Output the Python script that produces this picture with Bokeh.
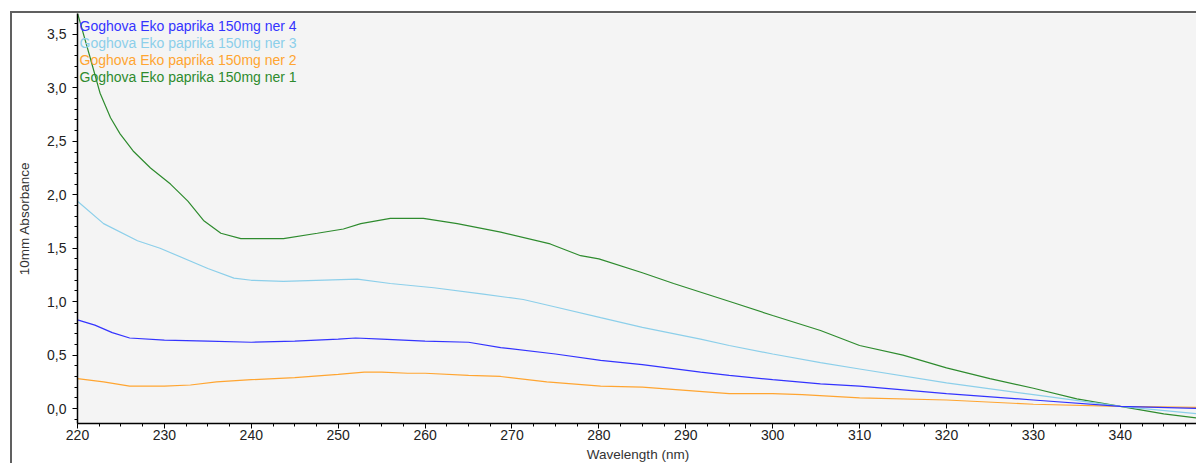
from bokeh.plotting import figure
from bokeh.models import (ColumnDataSource, Range1d, SingleIntervalTicker, Label,
                          CustomJSTickFormatter)
from bokeh.embed import file_html
from bokeh.resources import INLINE

# Wavelength sample points (nm) per series and absorbance values
wl_ner1 = [220, 221.5, 222.6, 223.8, 224.9, 226.4, 228.4, 230.7, 232.7, 234.5, 236.5, 238.8,
           242.2, 243.7, 247.6, 250.6, 252.6, 256, 259.8, 263.7, 268.7, 274.4, 277.9, 280, 285,
           288.6, 295.5, 300, 305.5, 310, 315, 320, 325, 330, 335, 340, 345, 349]
abs_ner1 = [3.70, 3.27, 2.95, 2.72, 2.57, 2.41, 2.25, 2.10, 1.94, 1.76, 1.64, 1.59,
            1.59, 1.59, 1.64, 1.68, 1.73, 1.78, 1.78, 1.73, 1.65, 1.54, 1.43, 1.40, 1.27,
            1.17, 0.99, 0.87, 0.73, 0.59, 0.50, 0.38, 0.28, 0.19, 0.09, 0.02, -0.05, -0.09]

wl_ner3 = [220, 223, 226.9, 229.5, 235, 238, 240, 243.7, 252.2, 256, 261, 266.7, 271.3,
           275, 280.2, 285, 291.7, 295, 300, 305.5, 310, 320, 330, 340, 349]
abs_ner3 = [1.94, 1.73, 1.57, 1.50, 1.31, 1.22, 1.20, 1.19, 1.21, 1.17, 1.13, 1.07, 1.02,
            0.95, 0.85, 0.76, 0.65, 0.59, 0.51, 0.43, 0.37, 0.24, 0.13, 0.02, -0.05]

wl_ner4 = [220, 222, 224, 226, 230, 235, 240, 245, 250, 252, 255, 260, 265, 268.7, 275,
           280.2, 285, 291.7, 295, 300, 305.5, 310, 320, 330, 340, 349]
abs_ner4 = [0.83, 0.78, 0.71, 0.66, 0.64, 0.63, 0.62, 0.63, 0.65, 0.66, 0.65, 0.63, 0.62,
            0.57, 0.51, 0.45, 0.41, 0.34, 0.31, 0.27, 0.23, 0.21, 0.14, 0.08, 0.02, 0.00]

wl_ner2 = [220, 223, 226, 230, 233, 236, 240, 245, 250, 253, 255, 258, 260, 265, 268.7,
           274, 280.2, 285, 290, 295, 300, 303.4, 310, 320, 330, 340, 349]
abs_ner2 = [0.28, 0.25, 0.21, 0.21, 0.22, 0.25, 0.27, 0.29, 0.32, 0.34, 0.34, 0.33, 0.33,
            0.31, 0.30, 0.25, 0.21, 0.20, 0.17, 0.14, 0.14, 0.13, 0.10, 0.08, 0.04, 0.02, 0.01]

series_names = ["Goghova Eko paprika 150mg ner 4", "Goghova Eko paprika 150mg ner 3",
                "Goghova Eko paprika 150mg ner 2", "Goghova Eko paprika 150mg ner 1"]
series_colors = ["#3333ff", "#8ccfea", "#ffa531", "#2e8b2e"]
series_x = [wl_ner4, wl_ner3, wl_ner2, wl_ner1]
series_y = [abs_ner4, abs_ner3, abs_ner2, abs_ner1]

X0, X1 = 220, 349
Y0, Y1 = -0.14, 3.696
H = 452
BORDER_BOTTOM = 42

p = figure(width=1186, height=H, output_backend="svg", toolbar_location=None,
           x_range=Range1d(X0, X1), y_range=Range1d(Y0, Y1),
           min_border_left=65, min_border_right=0, min_border_top=0,
           min_border_bottom=BORDER_BOTTOM,
           styles={"margin-left": "10px", "margin-top": "11px",
                   "border-left": "2px solid #606060", "border-top": "2px solid #606060"})

p.background_fill_color = "#f4f4f4"
p.border_fill_color = "white"
p.outline_line_color = None
p.grid.visible = False

# draw in reverse so ner 4 is on top
for xs, ys, c in zip(series_x[::-1], series_y[::-1], series_colors[::-1]):
    src = ColumnDataSource(data=dict(x=xs, y=ys))
    p.line("x", "y", source=src, line_color=c, line_width=1.2)

fmt = CustomJSTickFormatter(code="return tick.toFixed(1).replace('.', ',');")
p.yaxis.ticker = SingleIntervalTicker(interval=0.5, num_minor_ticks=5)
p.yaxis.formatter = fmt
p.xaxis.ticker = SingleIntervalTicker(interval=10, num_minor_ticks=4)

for ax in (p.xaxis[0], p.yaxis[0]):
    ax.axis_line_color = "black"
    ax.axis_line_width = 1.5
    ax.major_tick_line_color = "black"
    ax.minor_tick_line_color = "black"
    ax.major_tick_in = 0
    ax.major_tick_out = 5
    ax.minor_tick_in = 0
    ax.minor_tick_out = 3
    ax.major_label_text_font = "Liberation Sans"
    ax.major_label_text_font_size = "14px"
    ax.major_label_text_color = "#222222"
    ax.axis_label_text_font = "Liberation Sans"
    ax.axis_label_text_font_size = "13.5px"
    ax.axis_label_text_font_style = "normal"
    ax.axis_label_text_color = "#333333"

p.xaxis.axis_label = "Wavelength (nm)"
p.yaxis.axis_label = "10mm Absorbance"
p.xaxis.major_label_standoff = 1
p.xaxis.axis_label_standoff = 4
p.yaxis.major_label_standoff = 6
p.yaxis.axis_label_standoff = 12

# legend-like labels stacked from the top-left corner of the frame
frame_h = H - BORDER_BOTTOM
per_px = (Y1 - Y0) / frame_h
for i, (name, c) in enumerate(zip(series_names, series_colors)):
    p.add_layout(Label(x=X0, y=Y1 - (12 + i * 17.25) * per_px, x_offset=2,
                       text=name, text_color=c, text_font="Liberation Sans",
                       text_font_size="14px", text_baseline="alphabetic",
                       text_align="left"))

open("out.html", "w").write(file_html(p, INLINE))
